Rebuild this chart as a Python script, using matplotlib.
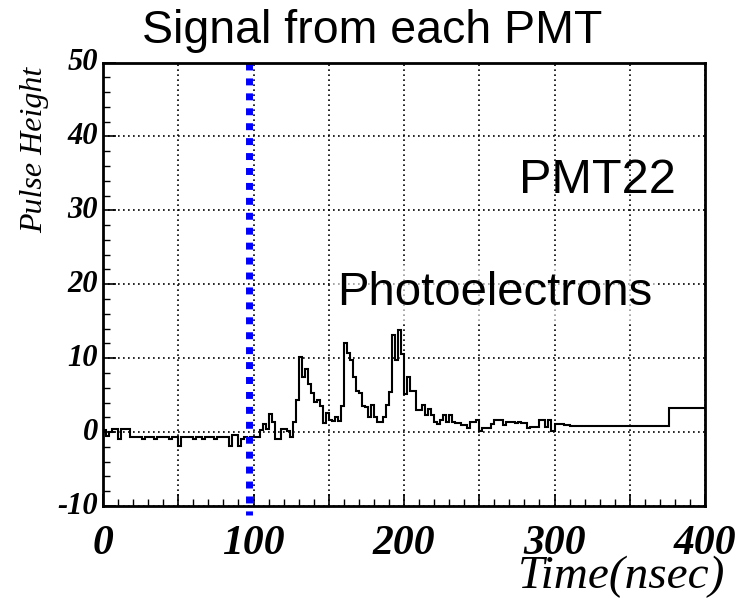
import numpy as np
import matplotlib
matplotlib.use("Agg")
import matplotlib.pyplot as plt
from matplotlib.ticker import MultipleLocator

# ---------------- data ----------------
title = "Signal from each PMT"
pmt_label = "PMT22"
pe_label = "Photoelectrons"
x_label = "Time(nsec)"
y_label = "Pulse Height"

bin_start_ns = 0.0
bin_width_ns = 2.0
pulse_height = [
    0.3, -0.5, 0.0, 0.4, 0.4, -0.9, 0.4, 0.4, 0.4, -0.6,
    -0.6, -0.6, -0.6, -0.9, -0.6, -0.6, -0.6, -0.9, -0.6, -0.6,
    -0.6, -0.6, -0.9, -0.6, -0.6, -1.9, -0.6, -0.6, -0.6, -0.6,
    -0.9, -0.6, -0.6, -0.9, -0.6, -0.6, -0.6, -0.9, -0.6, -0.6,
    -0.6, -0.6, -1.9, -0.4, -0.4, -1.9, -0.9, -0.6, -1.0, -0.6,
    -0.6, -0.6, 0.3, 1.1, 0.4, 2.5, 1.4, -0.9, -0.9, 0.4,
    0.4, 0.2, -0.6, 1.4, 4.3, 10.1, 7.4, 8.5, 6.5, 5.3,
    4.1, 4.4, 3.5, 1.2, 2.6, 1.7, 1.5, 2.0, 1.5, 3.5,
    12.0, 10.7, 9.8, 7.5, 5.5, 5.3, 3.5, 3.4, 2.1, 3.6,
    2.1, 1.4, 1.4, 2.1, 3.6, 5.4, 13.1, 9.8, 13.8, 10.5,
    5.2, 7.5, 5.5, 5.5, 3.0, 3.0, 3.6, 2.3, 3.1, 2.3,
    1.4, 1.1, 1.6, 2.3, 1.4, 2.3, 1.4, 1.2, 1.2, 0.9,
    0.9, 0.5, 1.3, 1.3, 1.6, 0.2, 0.5, 0.5, 0.5, 1.1,
    1.6, 1.6, 1.6, 0.9, 1.35, 1.35, 1.35, 1.2, 1.35, 1.2,
    1.2, 0.5, 0.7, 0.7, 0.7, 1.6, 1.6, 0.7, 1.6, 0.2,
    1.1, 1.1, 1.1, 0.9, 0.9,
]
tail_edges_ns = [376.0, 400.0]       # edges after the last regular bin
tail_values = [0.8, 3.2]
trigger_ns = 97.0

x_range = (0, 400)
y_range = (-10, 50)
x_tick_values = [0, 100, 200, 300, 400]
y_tick_values = [-10, 0, 10, 20, 30, 40, 50]

# ---------------- plot ----------------
W, H, DPI = 747, 598, 100
fig = plt.figure(figsize=(W / DPI, H / DPI), dpi=DPI)
fig.patch.set_facecolor("white")

ax = fig.add_axes([103 / W, 1 - 506 / H, (705 - 103) / W, (506 - 62.5) / H])

regular_edges = bin_start_ns + bin_width_ns * np.arange(len(pulse_height) + 1)
edges = np.concatenate([regular_edges, tail_edges_ns])
values = np.concatenate([pulse_height, tail_values])
ax.stairs(values, edges, baseline=None, color="black", linewidth=1.5, zorder=3)

ax.axvline(trigger_ns, ymin=1.0, ymax=-0.02, color="#0000ff", linewidth=5,
           linestyle=(0, (1, 1.15)), dash_capstyle="butt", clip_on=False, zorder=4)

ax.xaxis.set_major_locator(MultipleLocator(50))
ax.xaxis.set_minor_locator(MultipleLocator(10))
ax.yaxis.set_major_locator(MultipleLocator(10))
ax.yaxis.set_minor_locator(MultipleLocator(2))
ax.set_xlim(*x_range)
ax.set_ylim(*y_range)

ax.grid(True, which="major", color="black", linewidth=1.2, linestyle=(0, (1, 2)), zorder=1)

ax.tick_params(axis="both", which="major", direction="in", length=9, width=1.2,
               top=False, right=False, labelbottom=False, labelleft=False)
ax.tick_params(axis="both", which="minor", direction="in", length=5, width=1.0,
               top=False, right=False)

tick_font = dict(family=["Liberation Serif", "DejaVu Serif"], weight="bold", style="italic")
for v in x_tick_values:
    ax.text(v, -0.042, str(v), transform=ax.get_xaxis_transform(), ha="center", va="top",
            fontsize=30, clip_on=False, **tick_font)
for v in y_tick_values:
    ax.text(-0.008, v, str(v), transform=ax.get_yaxis_transform(), ha="right", va="center",
            fontsize=22, clip_on=False, **tick_font)

for s in ax.spines.values():
    s.set_linewidth(2)
    s.set_zorder(5)

sans = ["Liberation Sans", "DejaVu Sans"]
fig.text(372.5 / W, 1 - 43 / H, title, ha="center", va="baseline", fontsize=33.5, family=sans)
ax.text(276.7, 32.4, pmt_label, ha="left", va="baseline", fontsize=35, family=sans, zorder=6)
ax.text(155.3, 17.2, pe_label, ha="left", va="baseline", fontsize=34, family=sans, zorder=6,
        bbox=dict(facecolor="white", edgecolor="none", alpha=0.6, pad=4))

serif_it = dict(family=["Liberation Serif", "DejaVu Serif"], style="italic")
fig.text(725 / W, 1 - 588 / H, x_label, ha="right", va="baseline", fontsize=34, **serif_it)
fig.text(35 / W, 1 - 150 / H, y_label, ha="center", va="center", rotation=90,
         fontsize=23, **serif_it)

fig.savefig("out.png", dpi=DPI, facecolor="white")
